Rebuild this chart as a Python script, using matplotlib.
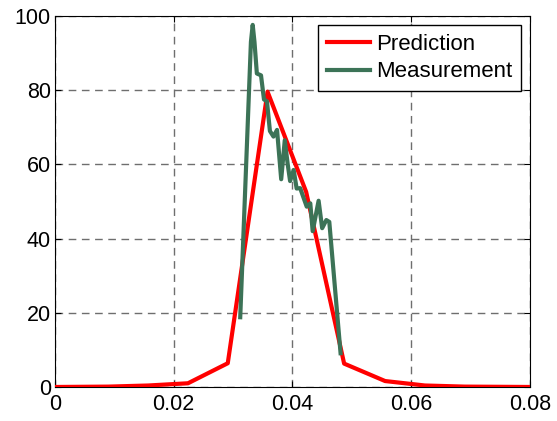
import numpy as np
import matplotlib
matplotlib.use("Agg")
import matplotlib.pyplot as plt

# prediction curve
pred_x = [0.0, 0.009, 0.0157, 0.0224, 0.0291, 0.0358, 0.0423, 0.0487, 0.0556, 0.0623, 0.069, 0.08]
pred_y = [0.0, 0.1, 0.4, 1.0, 6.4, 79.6, 52.6, 6.3, 1.6, 0.4, 0.1, 0.0]

# measured curve
meas_x = [0.0312, 0.0330, 0.0333, 0.0336, 0.0340, 0.0347, 0.0352, 0.0357, 0.0362,
          0.0368, 0.0374, 0.0381, 0.0387, 0.0392, 0.0396, 0.0402, 0.0407, 0.0413,
          0.0418, 0.0424, 0.0430, 0.0434, 0.0444, 0.0450, 0.0457, 0.0462, 0.0481]
meas_y = [18.8, 93.0, 97.6, 93.0, 84.5, 84.0, 77.5, 77.0, 69.0,
          67.5, 69.3, 56.0, 66.5, 60.0, 55.5, 58.5, 53.5, 53.6,
          51.3, 48.6, 49.5, 42.0, 50.2, 42.8, 45.0, 44.5, 9.1]

plt.rcParams['font.family'] = ['Liberation Sans', 'DejaVu Sans']

fig = plt.figure(figsize=(5.57, 4.21), dpi=100)
ax = fig.add_axes([0.0987, 0.0808, 0.8528, 0.8812])

ax.plot(pred_x, pred_y, color='#ff0000', lw=3, label='Prediction', zorder=3)
ax.plot(meas_x, meas_y, color='#3c7357', lw=3, label='Measurement', zorder=4)

ax.set_xlim(0, 0.08)
ax.set_ylim(0, 100)
ax.set_xticks([0, 0.02, 0.04, 0.06, 0.08])
ax.set_xticklabels(['0', '0.02', '0.04', '0.06', '0.08'])
ax.set_yticks([0, 20, 40, 60, 80, 100])
ax.tick_params(direction='in', top=True, right=True, labelsize=15.5, length=4)
ax.tick_params(axis='x', pad=5)
ax.tick_params(axis='y', pad=3)
ax.grid(True, color='#6e6e6e', linestyle=(0, (5.5, 4)), lw=1)
ax.set_axisbelow(True)

leg = ax.legend(loc='upper right', fontsize=16, fancybox=False, framealpha=1,
                edgecolor='black', handlelength=1.95, handletextpad=0.25,
                borderpad=0.4, labelspacing=0.3, borderaxespad=0.4)
leg.get_frame().set_linewidth(1)

fig.savefig('out.png', dpi=100)
